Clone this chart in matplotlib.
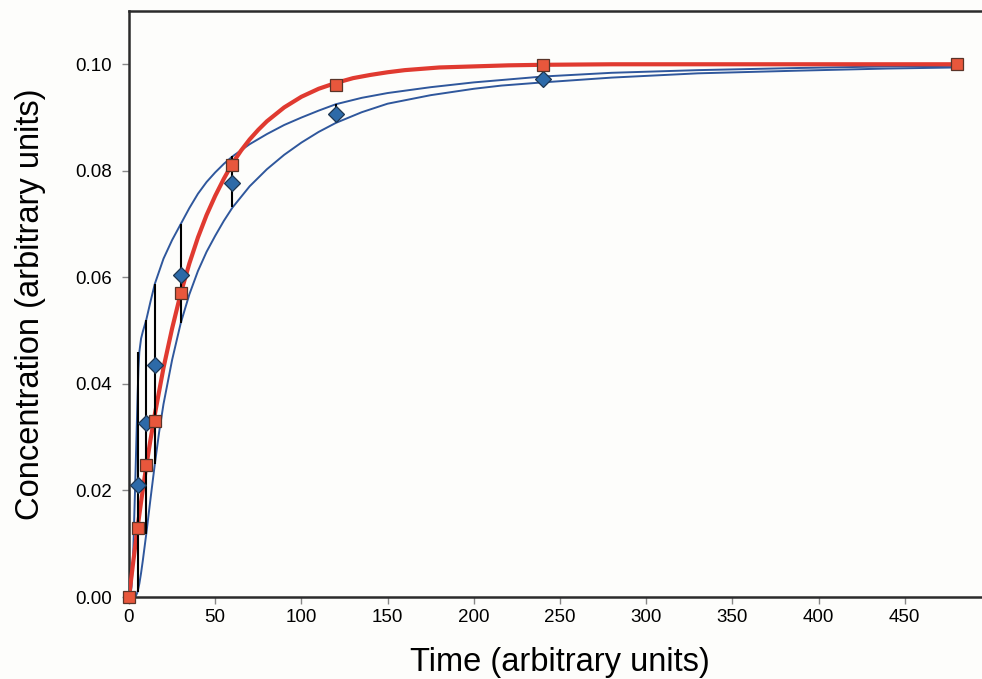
import numpy as np
import matplotlib.pyplot as plt

plt.rcParams['font.family'] = ['Liberation Sans', 'DejaVu Sans']

# ------------------------------------------------------------
# Data
# ------------------------------------------------------------
# sampled time points (red squares)
t_obs = [0, 5, 10, 15, 30, 60, 120, 240, 480]
red_pts = [0.0, 0.0130, 0.0248, 0.0331, 0.0570, 0.0810, 0.0962, 0.0998, 0.1000]

# blue diamonds (measured means) with error bar ends
t_blue = [5, 10, 15, 30, 60, 120, 240]
blue_pts = [0.0211, 0.0327, 0.0436, 0.0605, 0.0778, 0.0906, 0.0972]
blue_lo = [0.0010, 0.0118, 0.0250, 0.0514, 0.0733, 0.0891, 0.0966]
blue_hi = [0.0460, 0.0520, 0.0588, 0.0700, 0.0827, 0.0925, 0.0978]

# red fitted curve
t_red = [0, 2.5, 5, 7.5, 10, 12.5, 15, 20, 25, 30, 35, 40, 45, 50, 55, 60,
         65, 70, 75, 80, 90, 100, 110, 120, 130, 140, 150, 160, 180, 200,
         220, 240, 280, 480]
c_red = [0.0, 0.0067, 0.0131, 0.0190, 0.0245, 0.0296, 0.0343, 0.0430, 0.0504,
         0.0570, 0.0626, 0.0675, 0.0717, 0.0753, 0.0785, 0.0814, 0.0838,
         0.0859, 0.0877, 0.0893, 0.0919, 0.0939, 0.0954, 0.0965, 0.0974,
         0.0980, 0.0985, 0.0989, 0.0994, 0.0996, 0.0998, 0.0999, 0.1000, 0.1000]

# upper blue band
t_up = [0, 1, 1.5, 2, 2.5, 3, 3.5, 4, 4.5, 5, 5.5, 6, 7, 8, 10, 12.5, 15,
        20, 25, 30, 35, 40, 45, 50, 55, 60, 70, 80, 90, 100, 110, 120, 135,
        150, 175, 200, 240, 280, 330, 388, 440, 480]
c_up = [0.0, 0.0008, 0.0020, 0.0050, 0.0090, 0.0145, 0.0200, 0.0260, 0.0320,
        0.0380, 0.0430, 0.0460, 0.0485, 0.0498, 0.0520, 0.0555, 0.0588,
        0.0635, 0.0670, 0.0700, 0.0730, 0.0757, 0.0779, 0.0797, 0.0813,
        0.0827, 0.0850, 0.0869, 0.0886, 0.0900, 0.0913, 0.0925, 0.0937,
        0.0946, 0.0957, 0.0966, 0.0977, 0.0984, 0.0989, 0.0993, 0.0996, 0.0997]

# lower blue band
t_lo = [0, 3, 4, 5, 6, 7, 8, 9, 10, 12.5, 15, 17.5, 20, 25, 30, 35, 40, 45,
        50, 55, 60, 70, 80, 90, 100, 110, 120, 135, 150, 175, 200, 216, 240,
        280, 330, 388, 440, 480]
c_lo = [0.0, 0.0, 0.0002, 0.0010, 0.0025, 0.0045, 0.0068, 0.0093, 0.0118,
        0.0185, 0.0250, 0.0310, 0.0362, 0.0445, 0.0514, 0.0568, 0.0612,
        0.0648, 0.0678, 0.0706, 0.0731, 0.0771, 0.0803, 0.0830, 0.0853,
        0.0873, 0.0890, 0.0910, 0.0926, 0.0942, 0.0954, 0.0960, 0.0966,
        0.0975, 0.0983, 0.0988, 0.0992, 0.0994]

# ------------------------------------------------------------
# Plot
# ------------------------------------------------------------
bg = '#fdfdfb'
fig = plt.figure(figsize=(9.82, 6.79), dpi=100, facecolor=bg)
ax = fig.add_axes([129 / 982, 82 / 679, 862 / 982, 586 / 679], facecolor=bg)

blue_line = '#2f579c'
ax.plot(t_up, c_up, color=blue_line, lw=1.4, zorder=2)
ax.plot(t_lo, c_lo, color=blue_line, lw=1.4, zorder=2)
ax.plot(t_red, c_red, color='#e03a30', lw=3.0, zorder=3,
        solid_joinstyle='round', solid_capstyle='round')

# error bars
lo_err = np.array(blue_pts) - np.array(blue_lo)
hi_err = np.array(blue_hi) - np.array(blue_pts)
ax.errorbar(t_blue, blue_pts, yerr=[lo_err, hi_err], fmt='none',
            ecolor='black', elinewidth=1.5, capsize=0, zorder=4)

ax.plot(t_blue, blue_pts, linestyle='none', marker='D', ms=8.5,
        mfc='#2d6aa8', mec='#1e3650', mew=0.9, zorder=5, clip_on=False)
ax.plot(t_obs, red_pts, linestyle='none', marker='s', ms=8,
        mfc='#e8573c', mec='#5a3428', mew=0.9, zorder=6, clip_on=False)

ax.set_xlim(0, 500)
ax.set_ylim(0, 0.11)
ax.set_xticks(np.arange(0, 451, 50))
ax.set_yticks([0.0, 0.02, 0.04, 0.06, 0.08, 0.10])
ax.set_yticklabels(['0.00', '0.02', '0.04', '0.06', '0.08', '0.10'])

for side in ['left', 'top', 'bottom']:
    ax.spines[side].set_color('#2b2b2b')
    ax.spines[side].set_linewidth(1.8)
ax.spines['right'].set_visible(False)
ax.tick_params(axis='both', direction='out', length=5, width=1,
               color='#888888', labelsize=13.5, labelcolor='black')
ax.tick_params(axis='y', pad=7)
ax.tick_params(axis='x', pad=4)

ax.set_xlabel('Time (arbitrary units)', fontsize=23.5, labelpad=15)
ax.set_ylabel('Concentration (arbitrary units)', fontsize=23.5, labelpad=21)

plt.savefig('out.png', dpi=100, facecolor=bg)
plt.close()
